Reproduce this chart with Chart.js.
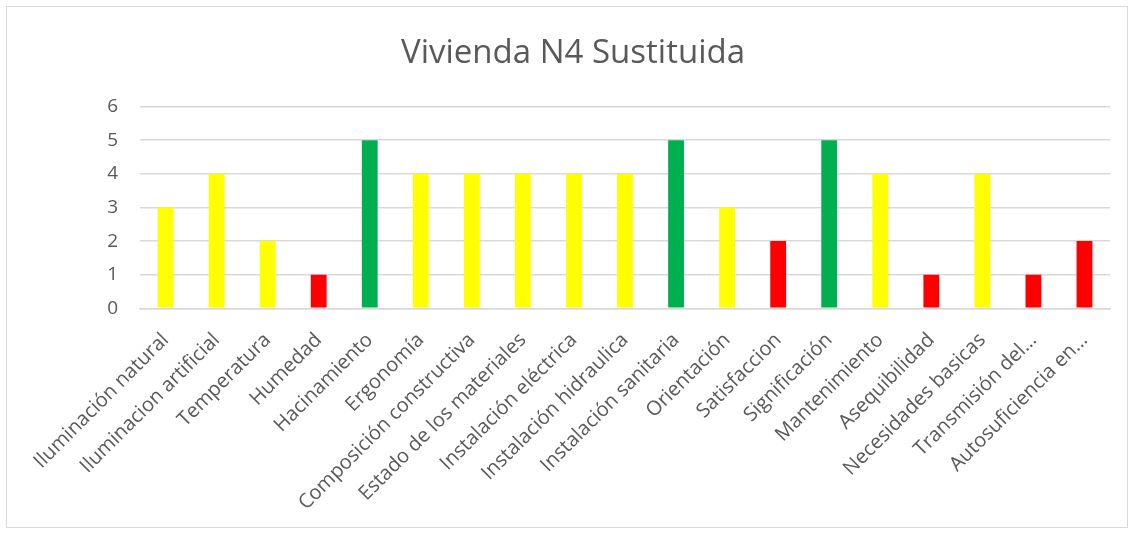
<!DOCTYPE html>
<html>
<head>
<meta charset="utf-8">
<script src="https://cdn.jsdelivr.net/npm/chart.js@4/dist/chart.umd.min.js"></script>
<style>
  html, body { margin: 0; padding: 0; background: #fff; }
  #box { position: absolute; left: 6px; top: 6px; width: 1120px; height: 520px; border: 1px solid #d9d9d9; }
  canvas { display: block; }
</style>
</head>
<body>
<div id="box"><canvas id="c" width="1120" height="520"></canvas></div>
<script>
  const categories = [
    'Iluminación natural', 'Iluminacion artificial', 'Temperatura', 'Humedad',
    'Hacinamiento', 'Ergonomía', 'Composición constructiva', 'Estado de los materiales',
    'Instalación eléctrica', 'Instalación hidraulica', 'Instalación sanitaria', 'Orientación',
    'Satisfaccion', 'Significación', 'Mantenimiento', 'Asequibilidad',
    'Necesidades basicas', 'Transmisión del…', 'Autosuficiencia en…'
  ];
  const scores = [3, 4, 2, 1, 5, 4, 4, 4, 4, 4, 5, 3, 2, 5, 4, 1, 4, 1, 2];
  const YELLOW = '#ffff00', RED = '#ff0000', GREEN = '#00b050';
  const barColors = [
    YELLOW, YELLOW, YELLOW, RED, GREEN, YELLOW, YELLOW, YELLOW, YELLOW, YELLOW,
    GREEN, YELLOW, RED, GREEN, YELLOW, RED, YELLOW, RED, RED
  ];
  const yTicks = [0, 1, 2, 3, 4, 5, 6];

  const FONT = '"Open Sans", "Liberation Sans", sans-serif';
  const GREY = '#595959';

  new Chart(document.getElementById('c'), {
    type: 'bar',
    data: {
      labels: categories,
      datasets: [{
        data: scores,
        backgroundColor: barColors,
        borderWidth: 0,
        categoryPercentage: 1,
        barPercentage: 0.31
      }]
    },
    options: {
      responsive: false,
      animation: false,
      layout: { padding: { left: 29, right: 17, top: 0, bottom: 0 } },
      plugins: {
        legend: { display: false },
        tooltip: { enabled: false },
        title: {
          display: true,
          text: 'Vivienda N4 Sustituida',
          color: GREY,
          font: { family: FONT, size: 33, weight: 'normal' },
          padding: { top: 27, bottom: 33 }
        }
      },
      scales: {
        x: {
          grid: { display: false },
          border: { color: '#d9d9d9', width: 1.5 },
          ticks: {
            color: GREY,
            font: { family: FONT, size: 20 },
            minRotation: 45,
            maxRotation: 45,
            autoSkip: false,
            padding: 12
          }
        },
        y: {
          min: 0,
          max: 6,
          afterBuildTicks: (scale) => { scale.ticks = yTicks.map(v => ({ value: v })); },
          afterFit: (scale) => { scale.width = 104; },
          grid: { color: '#d9d9d9', lineWidth: 1.5, drawTicks: false },
          border: { display: false },
          ticks: {
            color: GREY,
            font: { family: FONT, size: 19 },
            padding: 22
          }
        }
      }
    }
  });
</script>
</body>
</html>
